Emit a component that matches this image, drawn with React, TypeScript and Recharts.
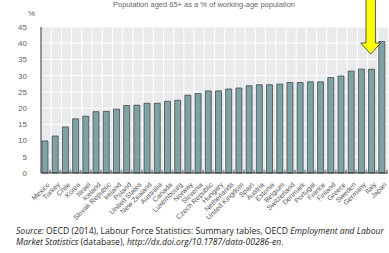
import React from "react";
import { BarChart, Bar, XAxis, YAxis, CartesianGrid, ReferenceDot } from "recharts";

const countries = [
  "Mexico", "Turkey", "Chile", "Korea", "Israel", "Iceland", "Slovak Republic", "Ireland",
  "Poland", "United States", "New Zealand", "Australia", "Canada", "Luxembourg", "Norway",
  "Slovenia", "Czech Republic", "Hungary", "Netherlands", "United Kingdom", "Spain", "Austria",
  "Estonia", "Belgium", "Switzerland", "Denmark", "Portugal", "France", "Finland", "Greece",
  "Sweden", "Germany", "Italy", "Japan",
];
const ratio = [
  9.9, 11.4, 14.2, 16.7, 17.5, 18.9, 19.0, 19.7, 20.8, 20.9, 21.5, 21.5, 22.1, 22.4, 24.0,
  24.5, 25.3, 25.3, 25.9, 26.2, 26.9, 27.2, 27.2, 27.4, 27.9, 27.9, 28.1, 28.1, 29.4, 29.9,
  31.4, 32.0, 32.0, 40.5,
];
const stub = [
  1, 1, 1, 1, 1, 1, 1, 1, 1, 1, 1, 1, 1, 1, 1, 1, 1, 1, 1, 1, 1, 1, 1, 1, 1, 1, 1, 1, 1, 1,
  1, 1, 1, 1,
];
const yTicks = [0, 5, 10, 15, 20, 25, 30, 35, 40, 45];
const highlighted = "Italy";

const data = countries.map((c, i) => ({ country: c, ratio: ratio[i], stub: stub[i] }));

const FONT = "'Liberation Sans', Arial, sans-serif";

const XTick = (props: any) => {
  const { x, y, payload } = props;
  return (
    <g transform={`translate(${x + 2},${y + 2})`}>
      <text
        textAnchor="end"
        transform="rotate(-45)"
        fontSize={7}
        fill="#555"
        fontFamily={FONT}
        dy={3}
      >
        {payload.value}
      </text>
    </g>
  );
};

const Arrow = (props: any) => {
  const { cx, cy } = props;
  if (cx == null || cy == null) return null;
  const x = cx - 2;
  const top = cy - 28;
  const shaftW = 4.7;
  const headW = 10;
  const headStart = cy + 16;
  const tip = cy + 27;
  const d = `M${x - shaftW},${top} L${x + shaftW},${top} L${x + shaftW},${headStart} L${x + headW},${headStart} L${x},${tip} L${x - headW},${headStart} L${x - shaftW},${headStart} Z`;
  return <path d={d} fill="#ffff00" stroke="#333" strokeWidth={0.8} />;
};

export default function App() {
  const n = countries.length;
  const vGen = (p: any) => {
    const off = p && p.offset ? p.offset : { left: 41, width: 347 };
    const arr: number[] = [];
    for (let k = 1; k < n; k++) arr.push(off.left + (off.width * k) / n);
    return arr;
  };
  return (
    <div
      style={{
        position: "absolute",
        left: 0,
        top: 0,
        width: 389,
        height: 253,
        overflow: "hidden",
        background: "#fff",
      }}
    >
      <div
        style={{
          position: "absolute",
          top: 0,
          left: 0,
          width: 408,
          textAlign: "center",
          fontFamily: FONT,
          fontSize: 7.5,
          lineHeight: "9px",
          color: "#666",
          whiteSpace: "nowrap",
        }}
      >
        Population aged 65+ as a % of working-age population
      </div>
      <div
        style={{
          position: "absolute",
          top: 9,
          left: 28,
          fontFamily: FONT,
          fontSize: 8,
          color: "#666",
        }}
      >
        %
      </div>
      <div style={{ position: "absolute", left: 0, top: 0 }}>
        <BarChart
          width={389}
          height={225}
          data={data}
          margin={{ top: 27, right: 1, left: 0, bottom: 0 }}
          barGap={1}
        >
          <CartesianGrid
            fill="#e9eaec"
            stroke="#ffffff"
            strokeWidth={1}
            verticalCoordinatesGenerator={vGen}
          />
          <XAxis
            dataKey="country"
            interval={0}
            height={52}
            tick={<XTick />}
            tickLine={false}
            axisLine={{ stroke: "#333", strokeWidth: 1 }}
          />
          <XAxis
            xAxisId="top"
            orientation="top"
            dataKey="country"
            height={0}
            tick={false}
            tickLine={false}
            axisLine={{ stroke: "#555", strokeWidth: 1 }}
          />
          <YAxis
            domain={[0, 45]}
            ticks={yTicks}
            width={41}
            interval={0}
            tick={{ fontSize: 8, fill: "#666", fontFamily: FONT }}
            tickLine={false}
            tickMargin={8}
            axisLine={{ stroke: "#333", strokeWidth: 1 }}
          />
          <YAxis
            yAxisId="right"
            orientation="right"
            domain={[0, 45]}
            width={0}
            tick={false}
            tickLine={false}
            axisLine={{ stroke: "#555", strokeWidth: 1 }}
          />
          <Bar
            dataKey="ratio"
            fill="#7ea2a6"
            stroke="#3a3a3a"
            strokeWidth={0.7}
            barSize={6}
            isAnimationActive={false}
          />
          <Bar
            dataKey="stub"
            fill="#9a9a9a"
            barSize={2}
            isAnimationActive={false}
          />
          <ReferenceDot
            x={highlighted}
            y={45}
            r={0}
            ifOverflow="visible"
            shape={(p: any) => <Arrow {...p} />}
          />
        </BarChart>
      </div>
      <div
        style={{
          position: "absolute",
          left: 16,
          top: 226,
          width: 420,
          fontFamily: "'Open Sans', 'Liberation Sans', sans-serif",
          fontSize: 8.6,
          lineHeight: "11px",
          color: "#222",
          whiteSpace: "nowrap",
        }}
      >
        <div>
          <i>Source:</i> OECD (2014), Labour Force Statistics: Summary tables, OECD{" "}
          <i>Employment and Labour</i>
        </div>
        <div>
          <i>Market Statistics</i> (database), <i>http://dx.doi.org/10.1787/data-00286-en</i>.
        </div>
      </div>
    </div>
  );
}
